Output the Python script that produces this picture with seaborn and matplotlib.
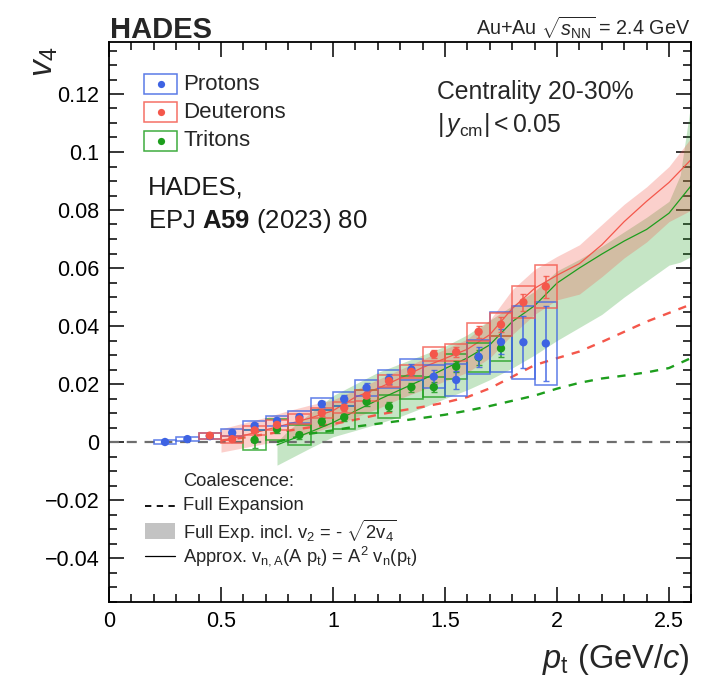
import numpy as np
import pandas as pd
import matplotlib
matplotlib.use("Agg")
import matplotlib.pyplot as plt
from matplotlib.patches import Rectangle
from matplotlib.ticker import MultipleLocator
import seaborn as sns

# ---------------- measured v4 vs pt ----------------
pt_p = [0.25, 0.35, 0.45, 0.55, 0.65, 0.75, 0.85, 0.95, 1.05, 1.15,
        1.25, 1.35, 1.45, 1.55, 1.65, 1.75, 1.85, 1.95]
v4_p = [0.0000, 0.0010, 0.0020, 0.0032, 0.0056, 0.0073, 0.0086, 0.0131, 0.0148, 0.0187,
        0.0217, 0.0250, 0.0225, 0.0214, 0.0294, 0.0345, 0.0344, 0.0340]
stat_p = [0.0005, 0.0005, 0.0006, 0.0007, 0.0008, 0.0009, 0.0010, 0.0012, 0.0013, 0.0015,
          0.0017, 0.0020, 0.0025, 0.0030, 0.0035, 0.0043, 0.0090, 0.0130]
sys_p = [0.0008, 0.0008, 0.0010, 0.0012, 0.0015, 0.0018, 0.0020, 0.0022, 0.0025, 0.0028,
         0.0030, 0.0035, 0.0040, 0.0054, 0.0058, 0.0102, 0.0126, 0.0144]

pt_d = [0.45, 0.55, 0.65, 0.75, 0.85, 0.95, 1.05, 1.15, 1.25, 1.35,
        1.45, 1.55, 1.65, 1.75, 1.85, 1.95]
v4_d = [0.0022, 0.0010, 0.0040, 0.0059, 0.0078, 0.0100, 0.0118, 0.0160, 0.0210, 0.0242,
        0.0303, 0.0310, 0.0380, 0.0405, 0.0482, 0.0536]
stat_d = [0.0006, 0.0007, 0.0007, 0.0008, 0.0008, 0.0009, 0.0010, 0.0011, 0.0012, 0.0013,
          0.0015, 0.0017, 0.0020, 0.0025, 0.0030, 0.0038]
sys_d = [0.0010, 0.0012, 0.0015, 0.0016, 0.0017, 0.0018, 0.0019, 0.0020, 0.0021, 0.0023,
         0.0025, 0.0029, 0.0032, 0.0041, 0.0055, 0.0073]

pt_t = [0.65, 0.75, 0.85, 0.95, 1.05, 1.15, 1.25, 1.35, 1.45, 1.55, 1.65, 1.75]
v4_t = [0.0007, 0.0044, 0.0024, 0.0070, 0.0085, 0.0139, 0.0122, 0.0189, 0.0189, 0.0260,
        0.0292, 0.0323]
stat_t = [0.0027, 0.0012, 0.0012, 0.0012, 0.0013, 0.0014, 0.0015, 0.0016, 0.0018, 0.0020,
          0.0025, 0.0030]
sys_t = [0.0033, 0.0037, 0.0035, 0.0040, 0.0040, 0.0040, 0.0040, 0.0040, 0.0035, 0.0044,
         0.0050, 0.0043]

# ---------------- coalescence expectations ----------------
# full expansion of the proton v4 (dashed)
fe_pt_d = [0.50, 0.60, 0.70, 0.80, 0.90, 1.00, 1.10, 1.20, 1.30, 1.40, 1.50,
           1.60, 1.70, 1.80, 1.90, 2.00, 2.10, 2.20, 2.30, 2.40, 2.50, 2.60]
fe_d = [0.0005, 0.0015, 0.0027, 0.0039, 0.0051, 0.0062, 0.0077, 0.0094, 0.0108, 0.0121, 0.0136,
        0.0155, 0.0185, 0.0225, 0.0265, 0.0289, 0.0312, 0.0345, 0.0380, 0.0415, 0.0445, 0.0475]
fe_pt_t = [0.75, 0.80, 0.90, 1.00, 1.10, 1.20, 1.30, 1.40, 1.50, 1.60, 1.70,
           1.80, 1.90, 2.00, 2.10, 2.20, 2.30, 2.40, 2.50, 2.60]
fe_t = [0.0000, 0.0010, 0.0029, 0.0040, 0.0053, 0.0063, 0.0073, 0.0083, 0.0094, 0.0108, 0.0124,
        0.0142, 0.0160, 0.0184, 0.0204, 0.0219, 0.0229, 0.0240, 0.0255, 0.0290]

# A^2 scaling approximation (thin solid)
ap_pt_d = fe_pt_d
ap_d = [0.0003, 0.0022, 0.0042, 0.0062, 0.0083, 0.0108, 0.0155, 0.0185, 0.0220, 0.0257, 0.0288,
        0.0320, 0.0370, 0.0460, 0.0530, 0.0575, 0.0615, 0.0680, 0.0760, 0.0830, 0.0895, 0.0975]
ap_pt_t = fe_pt_t
ap_t = [-0.0010, 0.0005, 0.0035, 0.0067, 0.0107, 0.0145, 0.0180, 0.0215, 0.0253, 0.0290, 0.0335,
        0.0415, 0.0470, 0.0548, 0.0600, 0.0648, 0.0693, 0.0733, 0.0789, 0.0885]

# full expansion including v2 = -sqrt(2 v4) (bands)
band_pt_d = fe_pt_d
band_lo_d = [-0.0035, -0.0020, -0.0005, 0.0012, 0.0030, 0.0055, 0.0085, 0.0115, 0.0150, 0.0180,
             0.0210, 0.0240, 0.0290, 0.0370, 0.0440, 0.0490, 0.0510, 0.0570, 0.0635, 0.0690,
             0.0760, 0.0800]
band_hi_d = [0.0045, 0.0065, 0.0085, 0.0108, 0.0128, 0.0145, 0.0180, 0.0215, 0.0250, 0.0285,
             0.0320, 0.0355, 0.0420, 0.0525, 0.0595, 0.0640, 0.0680, 0.0750, 0.0820, 0.0880,
             0.0950, 0.1050]
band_pt_t = [0.75, 0.80, 0.90, 1.00, 1.10, 1.20, 1.30, 1.40, 1.50, 1.60, 1.70,
             1.80, 1.90, 2.00, 2.10, 2.20, 2.30, 2.40, 2.50, 2.55, 2.60]
band_lo_t = [-0.0080, -0.0060, -0.0020, 0.0018, 0.0040, 0.0063, 0.0088, 0.0118, 0.0150, 0.0180,
             0.0215, 0.0255, 0.0300, 0.0350, 0.0395, 0.0440, 0.0500, 0.0555, 0.0610, 0.0620,
             0.0640]
band_hi_t = [0.0000, 0.0040, 0.0100, 0.0160, 0.0200, 0.0240, 0.0270, 0.0300, 0.0330, 0.0370,
             0.0420, 0.0470, 0.0520, 0.0590, 0.0630, 0.0675, 0.0725, 0.0775, 0.0830, 0.0920,
             0.1180]

BIN_HALF = 0.05

# ---------------- style ----------------
sns.set_theme(style="ticks")
plt.rcParams["font.family"] = ["Liberation Sans", "DejaVu Sans"]
plt.rcParams["mathtext.fontset"] = "custom"
plt.rcParams["mathtext.rm"] = "Liberation Sans"
plt.rcParams["mathtext.it"] = "Liberation Sans:italic"
plt.rcParams["mathtext.bf"] = "Liberation Sans:bold"

C_P = "#3e63e3"
C_D = "#f4574b"
C_T = "#1d9e1d"
C_BAND_D = "#f4574b"
C_BAND_T = "#2ca02c"

W, H = 707, 683
fig = plt.figure(figsize=(W / 100, H / 100), dpi=100)
ax_l, ax_r, ax_t, ax_b = 109, 691.4, 41.8, 601.5
ax = fig.add_axes([ax_l / W, 1 - ax_b / H, (ax_r - ax_l) / W, (ax_b - ax_t) / H])


def fx(px):
    return px / W


def fy(py):
    return 1 - py / H


# bands
ax.fill_between(band_pt_t, band_lo_t, band_hi_t, color=C_BAND_T, alpha=0.27, lw=0, zorder=1)
ax.fill_between(band_pt_d, band_lo_d, band_hi_d, color=C_BAND_D, alpha=0.28, lw=0, zorder=1.1)

# zero line
ax.axhline(0, color="#6e6e6e", lw=1.6, ls=(0, (4.5, 3.5)), zorder=1.5)

# full expansion (dashed) and approximation (solid)
curves = pd.DataFrame({"pt": fe_pt_d, "fe": fe_d, "ap": ap_d})
curves_t = pd.DataFrame({"pt": fe_pt_t, "fe": fe_t, "ap": ap_t})
sns.lineplot(data=curves, x="pt", y="fe", ax=ax, color=C_D, lw=1.7,
             linestyle=(0, (3.5, 3.5)), errorbar=None, zorder=2)
sns.lineplot(data=curves_t, x="pt", y="fe", ax=ax, color=C_T, lw=1.7,
             linestyle=(0, (3.5, 3.5)), errorbar=None, zorder=2)
sns.lineplot(data=curves, x="pt", y="ap", ax=ax, color=C_D, lw=0.9, errorbar=None, zorder=2)
sns.lineplot(data=curves_t, x="pt", y="ap", ax=ax, color=C_T, lw=0.9, errorbar=None, zorder=2)

# data: systematic boxes, statistical bars, markers
for pts, vals, st, sy, col in [(pt_t, v4_t, stat_t, sys_t, C_T),
                               (pt_p, v4_p, stat_p, sys_p, C_P),
                               (pt_d, v4_d, stat_d, sys_d, C_D)]:
    for x, y, s in zip(pts, vals, sy):
        ax.add_patch(Rectangle((x - BIN_HALF, y - s), 2 * BIN_HALF, 2 * s, fill=False,
                               edgecolor=col, lw=1.15, alpha=0.8, zorder=3))
    ax.errorbar(pts, vals, yerr=st, fmt="none", ecolor=col, elinewidth=1.2,
                capsize=2.5, capthick=1.0, alpha=0.85, zorder=4)
    sns.scatterplot(x=pts, y=vals, ax=ax, color=col, s=36, edgecolor="none", zorder=5)

# axes ranges and ticks
ax.set_xlim(0, 2.6)
ax.set_ylim(-0.055, 0.138)
ax.xaxis.set_major_locator(MultipleLocator(0.5))
ax.xaxis.set_minor_locator(MultipleLocator(0.1))
ax.yaxis.set_major_locator(MultipleLocator(0.02))
ax.yaxis.set_minor_locator(MultipleLocator(0.005))
ax.set_xticks([0, 0.5, 1, 1.5, 2, 2.5])
ax.set_xticklabels(["0", "0.5", "1", "1.5", "2", "2.5"])
ax.set_yticks([-0.04, -0.02, 0, 0.02, 0.04, 0.06, 0.08, 0.1, 0.12])
ax.set_yticklabels(["\u22120.04", "\u22120.02", "0", "0.02", "0.04", "0.06", "0.08", "0.1", "0.12"])
ax.tick_params(which="both", direction="in", top=True, right=True, color="black",
               width=1.1, labelsize=15.5, labelcolor="black")
ax.tick_params(which="major", length=11, pad=7)
ax.tick_params(which="minor", length=5.5)
for sp in ax.spines.values():
    sp.set_linewidth(1.3)
    sp.set_color("black")
ax.set_xlabel("")
ax.set_ylabel("")

# axis titles
fig.text(fx(690), fy(668), r"$\mathit{p}_{\mathrm{t}}$ (GeV/$\mathit{c}$)", ha="right",
         va="baseline", fontsize=23.5)
fig.text(fx(44), fy(62), r"$\mathit{v}_{4}$", ha="center", va="center", fontsize=24,
         rotation=90)

# header
fig.text(fx(110), fy(38), "HADES", fontsize=21, fontweight="bold", ha="left", va="baseline")
fig.text(fx(690), fy(35), r"Au+Au $\sqrt{s_{\mathrm{NN}}}$ = 2.4 GeV", fontsize=14.2,
         ha="right", va="baseline")

# species legend (top left)
for row_y, name, col in [(84, "Protons", C_P), (112, "Deuterons", C_D), (140.5, "Tritons", C_T)]:
    ax.add_patch(Rectangle((fx(144), fy(row_y + 10)), fx(177) - fx(144), fy(row_y - 10) - fy(row_y + 10),
                           transform=fig.transFigure, fill=False, edgecolor=col, lw=1.1,
                           alpha=0.85, clip_on=False, zorder=6))
    ax.plot([fx(160.5)], [fy(row_y)], "o", color=col, ms=5.2, mec="none",
            transform=fig.transFigure, clip_on=False, zorder=7)
    fig.text(fx(183), fy(row_y), name, fontsize=16, ha="left", va="center")

fig.text(fx(148), fy(188), "HADES,", fontsize=18.5, ha="left", va="center", color="#1a1a1a")
fig.text(fx(148), fy(221), r"EPJ $\mathbf{A59}$ (2023) 80", fontsize=18.5, ha="left",
         va="center", color="#1a1a1a")

fig.text(fx(437), fy(92), "Centrality 20-30%", fontsize=17.8, ha="left", va="center")
fig.text(fx(437), fy(125), r"$|\,\mathit{y}_{\mathrm{cm}}| < 0.05$", fontsize=17.8, ha="left",
         va="center")

# coalescence legend (bottom left)
fig.text(fx(183), fy(481), "Coalescence:", fontsize=13.2, ha="left", va="center")
ax.plot([fx(145), fx(175)], [fy(506), fy(506)], color="black", lw=1.3, ls=(0, (3.5, 3.0)),
        transform=fig.transFigure, clip_on=False)
fig.text(fx(183), fy(506), "Full Expansion", fontsize=13.2, ha="left", va="center")
ax.add_patch(Rectangle((fx(145), fy(539)), fx(175) - fx(145), fy(523) - fy(539),
                       transform=fig.transFigure, facecolor="#c3c3c3", edgecolor="none",
                       clip_on=False))
fig.text(fx(183), fy(531), r"Full Exp. incl. $\mathrm{v_{2}}$ = - $\sqrt{2\mathrm{v}_{4}}$",
         fontsize=13.2, ha="left", va="center")
ax.plot([fx(145), fx(175)], [fy(556), fy(556)], color="black", lw=0.9,
        transform=fig.transFigure, clip_on=False)
fig.text(fx(183), fy(556),
         r"Approx. $\mathrm{v_{n,A}}$(A $\mathrm{p_{t}}$) = A$^{2}$ $\mathrm{v_{n}}$($\mathrm{p_{t}}$)",
         fontsize=13.2, ha="left", va="center")

fig.savefig("out.png", dpi=100, facecolor="white")
